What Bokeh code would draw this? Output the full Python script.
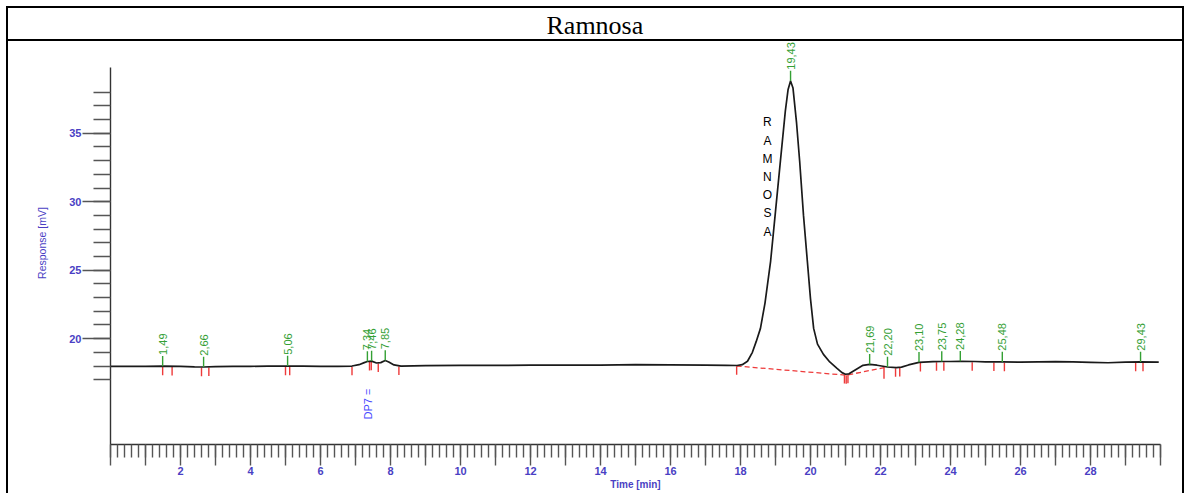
import numpy as np
from bokeh.plotting import figure
from bokeh.models import (Range1d, FixedTicker, ColumnDataSource, InlineStyleSheet)
from bokeh.core.properties import value
from bokeh.embed import file_html
from bokeh.resources import INLINE

# Chromatogram trace: retention time [min] and detector response [mV]
time_min = [0.0, 0.5, 1.0, 1.49, 2.0, 2.4, 2.66, 3.0, 3.5, 4.0, 4.5, 5.06, 5.5,
            6.0, 6.5, 6.9, 7.1, 7.25, 7.34, 7.46, 7.6, 7.72, 7.85, 7.95, 8.1, 8.3,
            9.0, 10.0, 11.0, 12.0, 13.0, 14.0, 15.0, 16.0, 17.0, 17.6, 17.9,
            18.05, 18.2, 18.34, 18.45, 18.57, 18.7, 18.86, 19.0, 19.14, 19.28,
            19.36, 19.43, 19.5, 19.6, 19.69, 19.8, 19.91, 20.0, 20.09, 20.2,
            20.37, 20.55, 20.75, 20.9, 21.0, 21.1, 21.3, 21.5, 21.69, 21.9,
            22.2, 22.45, 22.6, 22.8, 23.1, 23.5, 23.75, 24.0, 24.28, 24.7, 25.0,
            25.48, 26.0, 26.5, 27.0, 27.5, 28.0, 28.5, 29.0, 29.43, 29.95]
response_mv = [17.97, 17.98, 17.98, 17.99, 17.97, 17.94, 17.93, 17.95, 17.97, 17.98,
               17.99, 18.0, 17.99, 17.97, 17.98, 18.0, 18.1, 18.25, 18.33, 18.36,
               18.22, 18.25, 18.4, 18.3, 18.08, 18.0, 18.03, 18.05, 18.05, 18.06,
               18.06, 18.07, 18.1, 18.08, 18.06, 18.05, 18.04,
               18.1, 18.35, 19.0, 19.8, 20.75, 22.6, 25.65, 29.3, 32.97, 36.6,
               38.2, 38.82, 38.3, 35.8, 32.97, 29.0, 25.65, 22.9, 20.75, 19.6,
               18.85, 18.3, 17.85, 17.52, 17.4, 17.43, 17.75, 18.05, 18.12, 18.06,
               17.93, 17.88, 17.92, 18.08, 18.27, 18.32, 18.33, 18.33, 18.35, 18.33, 18.3,
               18.3, 18.28, 18.3, 18.32, 18.3, 18.27, 18.24, 18.28, 18.3, 18.28]

# Integrated peaks: retention times and their printed labels
peak_times = [1.49, 2.66, 5.06, 7.34, 7.46, 7.85, 19.43, 21.69, 22.20,
              23.10, 23.75, 24.28, 25.48, 29.43]
peak_labels = ["1,49", "2,66", "5,06", "7,34", "7,46", "7,85", "19,43", "21,69",
               "22,20", "23,10", "23,75", "24,28", "25,48", "29,43"]

# Integration start/end markers
marker_times = [1.49, 1.76, 2.6, 2.81, 5.0, 5.12, 6.9, 7.4, 7.45, 7.65, 8.24,
                17.89, 20.97, 21.02, 21.07, 22.1, 22.43, 22.55, 23.14, 23.6, 23.81,
                24.62, 25.24, 25.54, 29.29, 29.5]

# Drawn baseline under the main peak
baseline_times = [17.89, 21.02, 22.1]
baseline_mv = [18.0, 17.33, 17.88]

x_ticks = list(range(0, 31))
x_minor = [round(i * 0.2, 1) for i in range(151)]
x_labels = {t: (str(t) if (t % 2 == 0 and 0 < t < 30) else "") for t in x_ticks}
y_ticks = [20, 25, 30, 35]
y_minor = list(range(17, 39))
y_axis_span = (12.27, 39.8)

BLUE = "#4a3fc4"
GREEN = "#34a034"
RED = "#ee3a3a"
SANS = "Liberation Sans"

# table cell lines framing the chart (title row plus side borders)
frame_css = InlineStyleSheet(css="""
:host { position: relative; }
:host::after {
  content: ""; position: absolute; left: 6px; top: 6px; width: 1174px; height: 31px;
  border: 2px solid #000; pointer-events: none; z-index: 10;
}
:host::before {
  content: ""; position: absolute; left: 6px; top: 38px; width: 1174px; height: 470px;
  border-left: 2px solid #000; border-right: 2px solid #000; pointer-events: none;
  z-index: 10;
}
""")

p = figure(width=1185, height=493, output_backend="svg", toolbar_location=None,
           x_range=Range1d(0, 30), y_range=Range1d(12.27, 41.70),
           min_border_left=110, min_border_right=25, min_border_top=41,
           min_border_bottom=49, title="Ramnosa")
p.stylesheets = [frame_css]
p.outline_line_color = None
p.xgrid.visible = False
p.ygrid.visible = False
p.background_fill_color = "white"
p.border_fill_color = "white"

p.title.align = "left"
p.title.offset = 436
p.title.standoff = 4
p.title.text_font = "Liberation Serif"
p.title.text_font_size = "26px"
p.title.text_font_style = "normal"
p.title.text_color = "black"

xa = p.xaxis[0]
xa.ticker = FixedTicker(ticks=x_ticks, minor_ticks=x_minor)
xa.major_label_overrides = x_labels
xa.major_tick_out = 21
xa.major_tick_in = 0
xa.minor_tick_out = 13
xa.minor_tick_in = 0
xa.major_tick_line_color = "#555555"
xa.minor_tick_line_color = "#555555"
xa.major_tick_line_width = 1.4
xa.minor_tick_line_width = 1.4
xa.axis_line_color = "#333333"
xa.axis_line_width = 1.4
xa.major_label_standoff = 1
xa.major_label_text_font = SANS
xa.major_label_text_font_size = "11px"
xa.major_label_text_font_style = "bold"
xa.major_label_text_color = BLUE
xa.axis_label = "Time [min]"
xa.axis_label_text_font = SANS
xa.axis_label_text_font_size = "10px"
xa.axis_label_text_font_style = "bold"
xa.axis_label_text_color = BLUE
xa.axis_label_standoff = 1

ya = p.yaxis[0]
ya.bounds = y_axis_span
ya.ticker = FixedTicker(ticks=y_ticks, minor_ticks=y_minor)
ya.major_tick_out = 28
ya.major_tick_in = 0
ya.minor_tick_out = 17
ya.minor_tick_in = 0
ya.major_tick_line_color = "#555555"
ya.minor_tick_line_color = "#555555"
ya.major_tick_line_width = 1.4
ya.minor_tick_line_width = 1.4
ya.axis_line_color = "#333333"
ya.axis_line_width = 1.4
ya.major_label_standoff = 1
ya.major_label_orientation = "horizontal"
ya.major_label_text_font = SANS
ya.major_label_text_font_size = "11px"
ya.major_label_text_font_style = "bold"
ya.major_label_text_color = BLUE
ya.axis_label = "Response [mV]"
ya.axis_label_text_font = SANS
ya.axis_label_text_font_size = "10.5px"
ya.axis_label_text_font_style = "normal"
ya.axis_label_text_color = BLUE
ya.axis_label_standoff = 18

t_arr = np.array(time_min)
v_arr = np.array(response_mv)

# baseline construction (dashed) and integration markers
p.line(baseline_times, baseline_mv, line_color=RED, line_width=1.3, line_dash="5 3")
m_top = np.interp(marker_times, t_arr, v_arr) - 0.05
m_top = np.where((np.array(marker_times) > 20.9) & (np.array(marker_times) < 21.1),
                 np.interp(marker_times, baseline_times, baseline_mv), m_top)
m_len = np.where(np.isclose(marker_times, 22.1), 0.85, 0.62)
p.segment(x0=marker_times, y0=m_top, x1=marker_times, y1=m_top - m_len,
          line_color=RED, line_width=1.4)

# trace
p.line(time_min, response_mv, line_color="#1a1a1a", line_width=1.7)

# peak apex marks and retention-time labels
apex = np.interp(peak_times, t_arr, v_arr)
src = ColumnDataSource(dict(x=peak_times, y0=apex, y1=apex + 0.75, lab=peak_labels))
p.segment(x0="x", y0="y0", x1="x", y1="y1", source=src, line_color=GREEN, line_width=1.4)
p.text(x="x", y="y1", text="lab", source=src, angle=np.pi / 2, text_align="left",
       text_baseline="middle", text_color=GREEN, text_font=value(SANS),
       text_font_size="11px", y_offset=-1)

# compound annotations
p.text(x=[18.77], y=[36.3], text=["R\nA\nM\nN\nO\nS\nA"], text_align="center",
       text_baseline="top", text_font=value(SANS), text_font_size="12px",
       text_color="black", text_line_height=1.3)
p.text(x=[7.37], y=[14.1], text=["DP7 ="], angle=np.pi / 2, text_align="left",
       text_baseline="middle", text_font=value(SANS), text_font_size="11px",
       text_color="#4a4aff")

open("out.html", "w").write(file_html(p, INLINE))
